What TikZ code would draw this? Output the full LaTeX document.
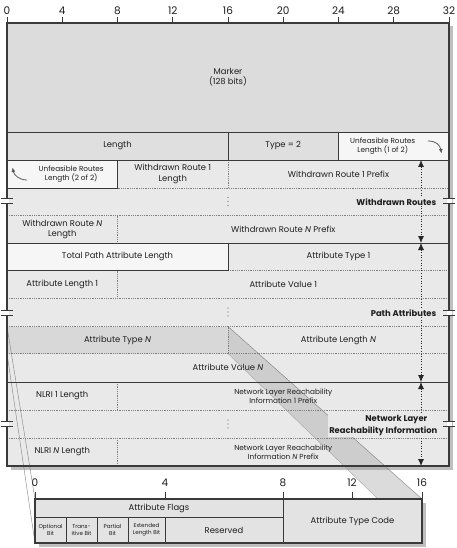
\documentclass[tikz,border=0pt]{standalone}
\usepackage{fontspec}
\setmainfont{Poppins}
\usetikzlibrary{arrows.meta}
\definecolor{cM}{HTML}{DCDCDC}
\definecolor{cL}{HTML}{DFDFDF}
\definecolor{cW}{HTML}{F6F6F6}
\definecolor{cG}{HTML}{E9E9E9}
\definecolor{cD}{HTML}{D8D8D8}
\definecolor{cB}{HTML}{E3E3E3}
\definecolor{ink}{HTML}{1E1E1E}
\definecolor{edge}{HTML}{3A3A3A}
\pgfdeclarelayer{back}\pgfdeclarelayer{mid}\pgfsetlayers{back,mid,main}
\newcommand\cellbox[8][]{%
  \begin{pgfonlayer}{back}\path[fill=#7] (#3,#4) rectangle (#5,#6);\end{pgfonlayer}
  \node[txt,#1] (#2) at ({(#3+#5)/2},{(#4+#6)/2}) {#8};}
\tikzset{
 txt/.style={font=\fontsize{8.4}{10.2}\selectfont, text=ink, align=center, inner sep=0pt},
 sm/.style={font=\fontsize{7.3}{9}\selectfont},
 tinyf/.style={font=\fontsize{5.6}{7.2}\selectfont},
 lbl/.style={font=\bfseries\fontsize{8.4}{12.5}\selectfont, text=ink, align=right, fill=cG, inner sep=1pt, anchor=east},
 dotl/.style={draw=black!50, line width=0.5pt, dash pattern=on 0.6pt off 1.2pt},
 soll/.style={draw=edge, line width=0.7pt},
 frame/.style={draw=edge, line width=1.3pt},
 span/.style={draw=black!85, line width=0.8pt, dash pattern=on 1pt off 1.6pt, {Latex[length=7pt,width=6pt]}-{Latex[length=7pt,width=6pt]}},
 turn/.style={draw=black!65, line width=0.8pt, -{Latex[length=4.5pt,width=4pt]}},
 ruler/.style={font=\fontsize{10.5}{12}\selectfont, text=ink, inner sep=0pt},
 brk/.style={draw=edge, line width=0.8pt},
 zoomedge/.style={draw=black!50, line width=0.4pt},
}
\begin{document}
\begin{tikzpicture}[x=1pt,y=-1pt]
\useasboundingbox (0,0) rectangle (456,548);
\begin{pgfonlayer}{back}
\fill[black!25] (10.5,26.5) rectangle (452.5,469.5);
\fill[black!25] (38.5,502.5) rectangle (425.5,546.5);
\end{pgfonlayer}
% ---- main packet cells
\cellbox{marker}{7}{23}{449}{132}{cM}{Marker\\(128 bits)}
\cellbox{len}{7}{132}{228}{160}{cL}{Length}
\cellbox{type}{228}{132}{338.5}{160}{cL}{Type = 2}
\cellbox[sm,xshift=-11pt]{unf1}{338.5}{132}{449}{160}{cW}{Unfeasible Routes\\Length (1 of 2)}
\cellbox[sm,xshift=9pt]{unf2}{7}{160}{117.5}{188}{cW}{Unfeasible Routes\\Length (2 of 2)}
\cellbox{wr1len}{117.5}{160}{228}{188}{cG}{Withdrawn Route 1\\Length}
\cellbox{wr1pre}{228}{160}{449}{188}{cG}{Withdrawn Route 1 Prefix}
\cellbox{wrell}{7}{188}{449}{215.5}{cG}{}
\cellbox{wrNlen}{7}{215.5}{117.5}{243}{cG}{Withdrawn Route \textit{N}\\Length}
\cellbox{wrNpre}{117.5}{215.5}{449}{243}{cG}{Withdrawn Route \textit{N} Prefix}
\cellbox{tpal}{7}{243}{228}{270.5}{cW}{Total Path Attribute Length}
\cellbox{at1}{228}{243}{449}{270.5}{cG}{Attribute Type 1}
\cellbox{al1}{7}{270.5}{117.5}{298}{cG}{Attribute Length 1}
\cellbox{av1}{117.5}{270.5}{449}{298}{cG}{Attribute Value 1}
\cellbox{paell}{7}{298}{449}{326.5}{cG}{}
\cellbox{atN}{7}{326.5}{228}{353.5}{cD}{Attribute Type \textit{N}}
\cellbox{alN}{228}{326.5}{449}{353.5}{cG}{Attribute Length \textit{N}}
\cellbox{avN}{7}{353.5}{449}{382}{cG}{Attribute Value \textit{N}}
\cellbox{nl1}{7}{382}{117.5}{410}{cG}{NLRI 1 Length}
\cellbox[sm]{nlp1}{117.5}{382}{449}{410}{cG}{Network Layer Reachability\\Information 1 Prefix}
\cellbox{nlell}{7}{410}{449}{438}{cG}{}
\cellbox{nlN}{7}{438}{117.5}{466}{cG}{NLRI \textit{N} Length}
\cellbox[sm]{nlpN}{117.5}{438}{449}{466}{cG}{Network Layer Reachability\\Information \textit{N} Prefix}
% ---- zoom projection band
\begin{pgfonlayer}{mid}
\path[fill=black!40, fill opacity=0.35] (228,326.5) -- (422,499) -- (378,499) -- (228,353.5) -- cycle;
\end{pgfonlayer}
\draw[zoomedge] (228,326.5) -- (422,499);
\draw[zoomedge, draw=black!35] (228,353.5) -- (378,499);
\draw[zoomedge] (7,326.5) -- (35,499);
\draw[zoomedge] (7,353.5) -- (35,543);
% ---- dotted separators
\draw[dotl] (228,160) -- (228,188);
\draw[dotl] (117.5,188) -- (449,188);
\draw[dotl] (7,215.5) -- (449,215.5);
\draw[dotl] (117.5,215.5) -- (117.5,243);
\draw[dotl] (228,270.5) -- (449,270.5);
\draw[dotl] (117.5,270.5) -- (117.5,298);
\draw[dotl] (7,298) -- (449,298);
\draw[dotl] (7,326.5) -- (449,326.5);
\draw[dotl] (228,326.5) -- (228,353.5);
\draw[dotl] (7,353.5) -- (449,353.5);
\draw[dotl] (117.5,382) -- (117.5,410);
\draw[dotl] (7,410) -- (449,410);
\draw[dotl] (7,438) -- (449,438);
\draw[dotl] (117.5,438) -- (117.5,466);
% ---- solid separators
\draw[soll] (7,132) -- (449,132);
\draw[soll] (228,132) -- (228,160);
\draw[soll] (338.5,132) -- (338.5,160);
\draw[soll] (7,160) -- (449,160);
\draw[soll] (117.5,160) -- (117.5,188) -- (7,188);
\draw[soll] (7,243) -- (449,243);
\draw[soll] (228,243) -- (228,270.5) -- (7,270.5);
\draw[soll, line width=0.9pt] (7,382) -- (449,382);
% ---- ellipses
\foreach \yy in {201.5,312,424}{
  \foreach \d in {-4,0,4} \fill[black!60] (228,\yy+\d) circle (0.6);
}
% ---- frame and top ruler
\draw[frame] (7,23) rectangle (449,466);
\foreach \i in {0,...,8}{
  \pgfmathsetmacro\xx{7+55.25*\i}
  \pgfmathtruncatemacro\lab{4*\i}
  \draw[frame, line width=1pt] (\xx,23) -- (\xx,17.5);
  \node[ruler] (t\i) at (\xx,10.5) {\lab};
}
% ---- break marks
\foreach \yy in {201,312.5,424}{
  \fill[white] (4,\yy-2.4) rectangle (9,\yy+2.4);
  \fill[white] (447,\yy-2.4) rectangle (452,\yy+2.4);
  \draw[brk] (1,\yy-2.4) -- (13,\yy-2.4);
  \draw[brk] (1,\yy+2.4) -- (13,\yy+2.4);
  \draw[brk] (443,\yy-2.4) -- (455,\yy-2.4);
  \draw[brk] (443,\yy+2.4) -- (455,\yy+2.4);
}
% ---- turn arrows
\coordinate (u1s) at (428,141);
\coordinate (u1e) at (441.5,153.5);
\draw[turn] (u1s) .. controls (436,141) and (440,145) .. (u1e);
\coordinate (u2s) at (27,180);
\coordinate (u2e) at (12.5,167.5);
\draw[turn] (u2s) .. controls (19,180) and (14,175) .. (u2e);
% ---- section spans
\coordinate (s0) at (421,160);
\coordinate (s1) at (421,243);
\coordinate (s2) at (421,382);
\coordinate (s3) at (421,466);
\draw[span] (s0) -- (s1);
\draw[span] (s1) -- (s2);
\draw[span] (s2) -- (s3);
\node[lbl] (wrl) at (437.5,202) {Withdrawn Routes};
\node[lbl] (pal) at (437.5,313) {Path Attributes};
\node[lbl] (nll) at (438.5,425.5) {Network Layer\hspace*{10pt}\\Reachability Information};
% ---- attribute type detail box
\cellbox{flags}{35}{499}{283}{517}{cB}{Attribute Flags}
\cellbox[tinyf]{optb}{35}{517}{66}{543}{cB}{Optional\\Bit}
\cellbox[tinyf]{trb}{66}{517}{97}{543}{cB}{Trans-\\itive Bit}
\cellbox[tinyf]{pab}{97}{517}{128}{543}{cB}{Partial\\Bit}
\cellbox[tinyf]{exb}{128}{517}{165}{543}{cB}{Extended\\Length Bit}
\cellbox{resv}{165}{517}{283}{543}{cB}{Reserved}
\cellbox{atc}{283}{499}{422}{543}{cB}{Attribute Type Code}
\draw[soll] (35,517) -- (283,517);
\draw[soll, line width=0.5pt] (66,517) -- (66,543);
\draw[soll, line width=0.5pt] (97,517) -- (97,543);
\draw[soll, line width=0.5pt] (128,517) -- (128,543);
\draw[soll] (165,517) -- (165,543);
\draw[soll] (283,499) -- (283,543);
\draw[frame] (35,499) rectangle (422,543);
\foreach \xx/\lab [count=\k] in {35/0,165/4,283/8,352/12,422/16}{
  \draw[frame, line width=1pt] (\xx,499) -- (\xx,492);
  \node[ruler] (b\k) at (\xx,483) {\lab};
}
\end{tikzpicture}
\end{document}
